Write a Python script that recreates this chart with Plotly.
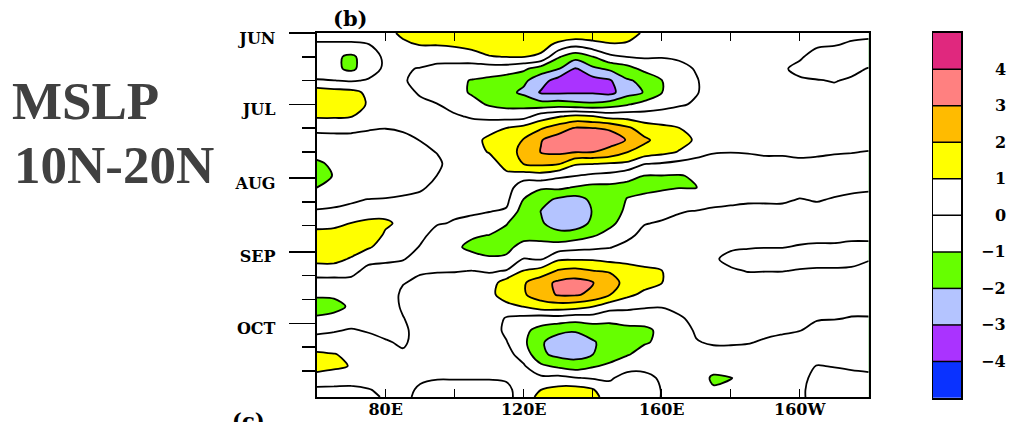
import numpy as np
import plotly.graph_objects as go

# longitudes (deg E) and days since 1 June
lon = [60, 65, 70, 75, 80, 85, 90, 95, 100, 105, 110, 115, 120, 125, 130, 135,
       140, 145, 150, 155, 160, 165, 170, 175, 180, 185, 190, 195, 200, 205, 210, 215, 220]
day = [0, 5, 10, 15, 20, 25, 30, 35, 40, 45, 50, 55, 60, 65, 70, 75, 80, 85, 90, 95,
       100, 105, 110, 115, 120, 125, 130, 135, 140, 145, 150, 153]

# MSLP anomaly (hPa), one list per longitude (day 0 .. 153)
z060 = [0.3, -0.1, -0.4, -0.4, 0.05, 1.6, 1.7, 1.1, 0.4, -0.6, -0.8, -1.1, -1.4, -1.0, -0.5, 0.1, 0.7, 1.3, 1.7, 1.3, 0.5, -0.4, -0.9, -1.3, -0.9, -0.3, 0.6, 1.1, 1.4, 0.6, -0.2, -0.4]
z065 = [0.3, -0.1, -0.8, -0.8, 0.02, 1.4, 1.6, 1.1, 0.4, -0.5, -0.7, -0.9, -0.95, -0.8, -0.4, 0.2, 0.8, 1.3, 1.6, 1.3, 0.5, -0.4, -0.9, -1.2, -0.8, -0.1, 0.6, 1.02, 1.2, 0.5, -0.2, -0.4]
z070 = [0.3, -0.1, -1.2, -1.2, -0.1, 1.3, 1.5, 1.05, 0.3, -0.4, -0.6, -0.75, -0.8, -0.7, -0.2, 0.4, 1.02, 1.4, 1.5, 0.9, 0.3, -0.3, -0.7, -0.9, -0.6, 0.1, 0.6, 0.9, 0.95, 0.4, -0.2, -0.4]
z075 = [0.3, -0.03, -0.5, -0.5, 0.1, 0.8, 0.9, 0.6, 0.1, -0.4, -0.6, -0.7, -0.7, -0.5, 0.03, 0.6, 1.2, 1.4, 1.1, 0.3, -0.3, -0.6, -0.8, -0.8, -0.6, -0.1, 0.4, 0.7, 0.7, 0.4, -0.05, -0.3]
z080 = [0.7, 0.3, 0.2, 0.2, 0.3, 0.5, 0.5, 0.4, 0.02, -0.4, -0.6, -0.6, -0.6, -0.4, 0.05, 0.8, 1.1, 0.9, 0.6, 0.15, -0.3, -0.6, -0.6, -0.6, -0.5, -0.3, 0.1, 0.4, 0.5, 0.4, 0.2, 0.15]
z085 = [1.2, 0.8, 0.3, 0.1, 0.1, 0.3, 0.3, 0.3, 0.1, -0.2, -0.4, -0.5, -0.4, -0.2, 0.1, 0.5, 0.85, 0.6, 0.4, 0.05, -0.4, -0.05, 0.2, 0.15, -0.05, -0.2, -0.15, 0.15, 0.3, 0.3, 0.2, 0.2]
z090 = [1.5, 1.02, 0.5, -0.05, -0.3, -0.1, 0.2, 0.3, 0.2, 0.02, -0.3, -0.5, -0.4, -0.1, 0.2, 0.4, 0.4, 0.2, -0.05, -0.3, -0.1, 0.2, 0.4, 0.5, 0.5, 0.4, 0.4, 0.4, 0.3, 0.1, -0.1, -0.2]
z095 = [1.6, 1.02, 0.4, -0.3, -0.6, -0.4, 0.02, 0.3, 0.4, 0.3, 0.05, -0.2, 0.02, 0.2, 0.3, 0.2, 0.05, -0.3, -0.5, -0.4, -0.05, 0.3, 0.5, 0.6, 0.6, 0.5, 0.5, 0.4, 0.3, 0.05, -0.3, -0.4]
z100 = [1.6, 1.1, 0.5, -0.4, -0.8, -0.7, -0.3, 0.1, 0.4, 0.5, 0.5, 0.5, 0.5, 0.4, 0.3, 0.1, -0.05, -0.5, -0.85, -0.5, -0.05, 0.4, 0.6, 0.6, 0.6, 0.6, 0.5, 0.5, 0.3, 0.05, -0.3, -0.4]
z105 = [1.6, 1.3, 0.6, -0.5, -1.05, -1.1, -0.7, -0.1, 0.4, 0.7, 0.7, 0.6, 0.5, 0.4, 0.3, 0.1, -0.2, -0.9, -1.2, -0.7, 0.02, 0.4, 0.6, 0.6, 0.6, 0.5, 0.5, 0.4, 0.3, 0.05, -0.3, -0.4]
z110 = [1.6, 1.45, 0.95, -0.5, -1.2, -1.4, -1.1, -0.3, 0.7, 1.2, 1.05, 0.6, 0.4, 0.3, 0.2, 0.02, -0.4, -1.02, -1.3, -0.9, -0.1, 0.5, 0.7, 0.8, 0.6, 0.5, 0.4, 0.3, 0.2, 0.05, -0.3, -0.4]
z115 = [1.6, 1.45, 1.02, -0.5, -1.5, -1.7, -1.3, -0.4, 1.02, 1.6, 1.7, 1.3, 0.8, 0.5, 0.2, -0.1, -0.95, -1.3, -1.3, -0.8, 0.05, 1.5, 1.5, 0.7, -0.1, -0.2, 0.05, 0.3, 0.4, 0.1, -0.2, -0.3]
z120 = [1.5, 1.4, 1.02, -0.8, -1.8, -2.2, -1.3, -0.4, 1.4, 2.05, 2.2, 2.02, 0.5, -0.7, -1.02, -1.5, -1.6, -1.4, -0.6, 0.05, 1.05, 1.9, 1.9, 1.03, -0.3, -0.8, -0.8, -0.4, 0.1, 0.3, 0.4, 0.5]
z125 = [1.5, 1.3, 0.85, -1.5, -2.6, -3.1, -1.6, 0.5, 1.9, 2.95, 3.05, 2.2, 0.6, -0.9, -1.6, -2.02, -1.9, -1.4, -0.6, -0.1, 1.4, 2.6, 2.5, 1.5, -0.5, -1.3, -1.9, -1.8, -0.8, 0.2, 1.0, 1.3]
z130 = [1.6, 0.8, -0.9, -1.9, -3.4, -3.15, -1.5, 0.9, 2.5, 3.5, 3.2, 2.1, 0.2, -0.8, -2.2, -2.5, -2.4, -1.7, -0.5, 0.85, 2.1, 3.2, 3.1, 1.5, -0.4, -1.8, -2.4, -2.3, -1.2, 0.3, 1.3, 1.6]
z135 = [1.8, 0.25, -1.6, -3.1, -3.7, -3.1, -1.7, 1.2, 3.1, 3.6, 3.05, 1.1, 0.02, -1.1, -2.4, -2.7, -2.5, -1.5, -0.3, 0.9, 2.3, 3.4, 3.1, 1.4, -0.6, -1.9, -2.6, -2.4, -1.5, 0.05, 1.4, 1.7]
z140 = [1.7, 0.6, -1.02, -2.2, -3.4, -3.1, -1.8, 1.02, 3.02, 3.5, 3.02, 1.02, -0.2, -1.3, -1.8, -1.95, -1.8, -1.1, -0.2, 0.9, 2.02, 3.05, 2.8, 1.02, -0.5, -1.6, -2.1, -2.02, -1.1, -0.1, 1.1, 1.4]
z145 = [1.6, 0.9, -0.2, -1.8, -3.1, -3.3, -1.5, 0.6, 2.9, 3.4, 2.7, 0.9, -0.3, -1.3, -1.6, -1.5, -1.2, -0.7, -0.05, 0.7, 1.9, 2.5, 2.02, 0.4, -0.8, -1.3, -1.6, -1.5, -0.8, -0.1, 0.3, 0.4]
z150 = [1.3, 0.9, 0.02, -1.4, -2.1, -2.4, -1.1, 0.6, 2.2, 2.95, 2.02, 0.8, -0.7, -1.3, -0.95, -0.8, -0.6, -0.25, 0.3, 0.8, 1.3, 1.6, 1.2, 0.3, -0.7, -1.2, -1.3, -1.1, -0.3, 0.3, 0.5, 0.5]
z155 = [0.9, 0.5, 0.1, -0.7, -1.8, -1.95, -0.6, 0.4, 1.5, 2.2, 1.6, 0.02, -1.02, -1.2, -0.8, -0.5, -0.05, 0.3, 0.5, 0.8, 1.1, 1.3, 0.8, 0.1, -0.6, -1.2, -1.1, -0.6, -0.2, 0.2, 0.3, 0.3]
z160 = [0.6, 0.4, 0.05, -0.5, -1.02, -1.02, -0.4, 0.5, 1.2, 1.6, 1.3, -0.1, -1.02, -1.1, -0.7, -0.3, 0.1, 0.3, 0.5, 0.7, 1.02, 1.02, 0.6, 0.05, -0.5, -0.8, -0.8, -0.6, -0.3, -0.1, -0.02, -0.02]
z165 = [0.4, 0.3, 0.1, -0.2, -0.5, -0.5, -0.1, 0.5, 1.02, 1.3, 0.95, -0.3, -1.05, -1.02, -0.6, -0.05, 0.2, 0.3, 0.4, 0.5, 0.5, 0.5, 0.4, 0.2, -0.1, -0.4, -0.5, -0.5, -0.4, -0.4, -0.4, -0.4]
z170 = [0.3, 0.3, 0.2, 0.05, -0.05, -0.05, 0.1, 0.3, 0.7, 0.9, 0.4, -0.4, -0.9, -1.02, -0.6, 0.05, 0.3, 0.3, 0.4, 0.4, 0.4, 0.4, 0.3, 0.3, 0.2, 0.1, -0.05, -0.3, -0.4, -0.5, -0.4, -0.4]
z175 = [0.3, 0.3, 0.3, 0.3, 0.3, 0.3, 0.3, 0.35, 0.4, 0.3, 0.05, -0.3, -0.5, -0.5, -0.2, 0.1, 0.3, 0.3, 0.2, 0.1, 0.2, 0.3, 0.4, 0.5, 0.4, 0.3, 0.1, -0.3, -0.6, -1.15, -0.9, -0.5]
z180 = [0.2, 0.2, 0.2, 0.2, 0.2, 0.2, 0.2, 0.3, 0.3, 0.2, 0.02, -0.3, -0.5, -0.4, -0.15, 0.15, 0.3, 0.3, 0.1, -0.2, 0.1, 0.3, 0.4, 0.5, 0.4, 0.3, 0.1, -0.3, -0.6, -1.02, -0.85, -0.5]
z185 = [0.2, 0.2, 0.2, 0.2, 0.2, 0.2, 0.2, 0.3, 0.3, 0.2, 0.05, -0.3, -0.5, -0.4, -0.1, 0.2, 0.3, 0.3, 0.05, -0.3, -0.03, 0.3, 0.4, 0.5, 0.4, 0.3, 0.05, -0.3, -0.6, -0.8, -0.7, -0.5]
z190 = [0.2, 0.2, 0.2, 0.2, 0.2, 0.2, 0.2, 0.3, 0.3, 0.2, 0.1, -0.2, -0.5, -0.4, -0.1, 0.2, 0.3, 0.3, 0.02, -0.3, -0.02, 0.3, 0.4, 0.4, 0.3, 0.2, -0.1, -0.4, -0.5, -0.6, -0.6, -0.5]
z195 = [0.2, 0.2, 0.1, 0.05, 0.1, 0.2, 0.2, 0.3, 0.3, 0.2, 0.1, -0.2, -0.4, -0.4, -0.1, 0.2, 0.3, 0.3, 0.02, -0.3, -0.02, 0.3, 0.4, 0.4, 0.3, 0.1, -0.2, -0.4, -0.4, -0.4, -0.3, -0.3]
z200 = [0.2, 0.15, 0.05, -0.1, 0.05, 0.15, 0.2, 0.3, 0.3, 0.25, 0.1, -0.1, -0.4, -0.3, 0.03, 0.2, 0.3, 0.2, -0.05, -0.3, 0.05, 0.3, 0.4, 0.4, 0.2, 0.02, -0.3, -0.3, -0.2, -0.15, -0.1, -0.1]
z205 = [0.15, 0.05, -0.15, -0.2, 0.02, 0.15, 0.2, 0.3, 0.3, 0.25, 0.1, -0.15, -0.4, -0.3, -0.05, 0.2, 0.3, 0.2, -0.1, -0.3, 0.1, 0.3, 0.4, 0.3, 0.05, -0.2, -0.3, -0.2, 0.02, 0.15, 0.2, 0.2]
z210 = [0.1, 0.02, -0.2, -0.2, -0.02, 0.1, 0.2, 0.3, 0.3, 0.2, 0.05, -0.2, -0.4, -0.2, 0.05, 0.2, 0.3, 0.2, -0.1, -0.3, 0.1, 0.3, 0.4, 0.3, 0.02, -0.2, -0.3, -0.2, -0.02, 0.15, 0.2, 0.2]
z215 = [0.1, -0.05, -0.2, -0.1, 0.05, 0.1, 0.2, 0.3, 0.3, 0.2, 0.02, -0.2, -0.4, -0.1, 0.1, 0.2, 0.3, 0.1, -0.1, -0.2, 0.1, 0.3, 0.3, 0.1, -0.02, -0.2, -0.3, -0.2, -0.05, 0.1, 0.2, 0.2]
z220 = [0.1, -0.1, -0.2, 0.02, 0.1, 0.15, 0.2, 0.3, 0.3, 0.2, -0.02, -0.2, -0.3, -0.05, 0.1, 0.2, 0.3, 0.1, -0.1, -0.02, 0.1, 0.3, 0.3, 0.1, -0.02, -0.2, -0.3, -0.2, -0.1, 0.1, 0.2, 0.2]

columns = [z060, z065, z070, z075, z080, z085, z090, z095, z100, z105, z110, z115, z120,
           z125, z130, z135, z140, z145, z150, z155, z160, z165, z170, z175, z180, z185,
           z190, z195, z200, z205, z210, z215, z220]

month_days = [0, 30, 61, 92, 122]
month_labels = ["JUN", "JUL", "AUG", "SEP", "OCT"]
minor_days = [10, 20, 40, 50, 71, 81, 102, 112, 132, 142]
lon_ticks = [80, 120, 160, 200]
lon_labels = ["80E", "120E", "160E", "160W"]
lon_minor = [100, 140, 180]
cbar_levels = [-4, -3, -2, -1, 0, 1, 2, 3, 4]
band_colors = ["#0a32ff", "#aa33ff", "#b4c4ff", "#66ff00", "#ffffff",
               "#ffffff", "#ffff00", "#ffbb00", "#ff8080", "#e0287e"]

W, H = 1015, 422
px_left, px_right, px_top, px_bottom = 316.7, 868.7, 33.0, 397.0
cb_left, cb_right, cb_top, cb_bottom = 933.0, 961.0, 32.7, 398.0

z = np.array(columns).T
colorscale = [[i / 9, c] for i, c in enumerate(band_colors)]

# colour-key bands: one cell per interval between contour levels
band_mid = [cbar_levels[0] - 0.5] + [v + 0.5 for v in cbar_levels]

tick_font = dict(family="DejaVu Serif", size=16, color="black", weight="bold")

fig = go.Figure()
fig.add_trace(go.Contour(
    x=lon, y=day, z=z,
    autocontour=False,
    contours=dict(start=-4, end=4, size=1, coloring="fill", showlines=True),
    line=dict(color="black", width=1.8, smoothing=0.9),
    colorscale=colorscale,
    showscale=False,
    hoverinfo="skip",
))
fig.add_trace(go.Heatmap(
    x=[0], y=band_mid, z=[[v] for v in band_mid],
    colorscale=colorscale, zmin=band_mid[0], zmax=band_mid[-1],
    showscale=False, hoverinfo="skip",
    xaxis="x2", yaxis="y2",
))

fig.update_layout(
    width=W, height=H,
    margin=dict(l=0, r=0, t=0, b=0, autoexpand=False),
    paper_bgcolor="white", plot_bgcolor="white",
    showlegend=False,
    xaxis=dict(
        domain=[px_left / W, px_right / W],
        range=[60, 220], showgrid=False, zeroline=False, automargin=False,
        showline=True, linecolor="black", linewidth=2, mirror="allticks",
        tickvals=lon_ticks, ticktext=lon_labels,
        ticks="inside", ticklen=8, tickwidth=1.5, tickcolor="black",
        minor=dict(tickvals=lon_minor, ticks="inside", ticklen=8, tickwidth=1.5, tickcolor="black"),
        tickfont=tick_font, ticklabelstandoff=-3,
    ),
    yaxis=dict(
        domain=[1 - px_bottom / H, 1 - px_top / H],
        range=[153, 0], showgrid=False, zeroline=False, automargin=False,
        showline=True, linecolor="black", linewidth=2, mirror=True,
        tickvals=month_days, ticktext=month_labels,
        ticks="outside", ticklen=26, tickwidth=1.5, tickcolor="black",
        minor=dict(tickvals=minor_days, ticks="outside", ticklen=13, tickwidth=1.5, tickcolor="black"),
        tickfont=tick_font, ticklabelstandoff=10, ticklabelshift=-5,
    ),
    xaxis2=dict(
        domain=[cb_left / W, cb_right / W], anchor="y2",
        range=[-0.5, 0.5], showgrid=False, zeroline=False, automargin=False,
        showline=True, linecolor="black", linewidth=1.5, mirror=True,
        showticklabels=False, ticks="", fixedrange=True,
    ),
    yaxis2=dict(
        domain=[1 - cb_bottom / H, 1 - cb_top / H], anchor="x2",
        range=[band_mid[0] - 0.5, band_mid[-1] + 0.5], showgrid=False, zeroline=False,
        automargin=False, showline=True, linecolor="black", linewidth=1.5, mirror=True,
        showticklabels=False, ticks="", fixedrange=True,
    ),
)

shapes = []
for v in cbar_levels:
    shapes.append(dict(type="line", xref="x2 domain", yref="y2", x0=0, x1=1, y0=v, y1=v,
                       line=dict(color="black", width=1.5)))
fig.update_layout(shapes=shapes)

ann = []
ann.append(dict(text="MSLP", x=10 / W, y=1 - 101 / H, xref="paper", yref="paper",
                xanchor="left", yanchor="middle", showarrow=False,
                font=dict(family="Liberation Serif", size=53, color="#404040", weight="bold")))
ann.append(dict(text="10N-20N", x=12 / W, y=1 - 165 / H, xref="paper", yref="paper",
                xanchor="left", yanchor="middle", showarrow=False,
                font=dict(family="Liberation Serif", size=53, color="#404040", weight="bold")))
ann.append(dict(text="(b)", x=350 / W, y=1 - 18 / H, xref="paper", yref="paper",
                xanchor="center", yanchor="middle", showarrow=False,
                font=dict(family="DejaVu Serif", size=21, color="black", weight="bold")))
ann.append(dict(text="(c)", x=248 / W, y=1 - 406 / H, xref="paper", yref="paper",
                xanchor="center", yanchor="top", showarrow=False,
                font=dict(family="DejaVu Serif", size=21, color="black", weight="bold")))
for v in cbar_levels:
    label = str(v) if v >= 0 else "\u2212" + str(-v)
    ann.append(dict(text=label, x=1008 / W, y=v, xref="paper", yref="y2",
                    xanchor="right", yanchor="middle", showarrow=False,
                    font=dict(family="DejaVu Serif", size=16, color="black", weight="bold")))
fig.update_layout(annotations=ann)

fig.write_html("out.html", config={"displayModeBar": False, "staticPlot": True},
               post_script="document.body.style.margin='0px';document.body.style.padding='0px';")
